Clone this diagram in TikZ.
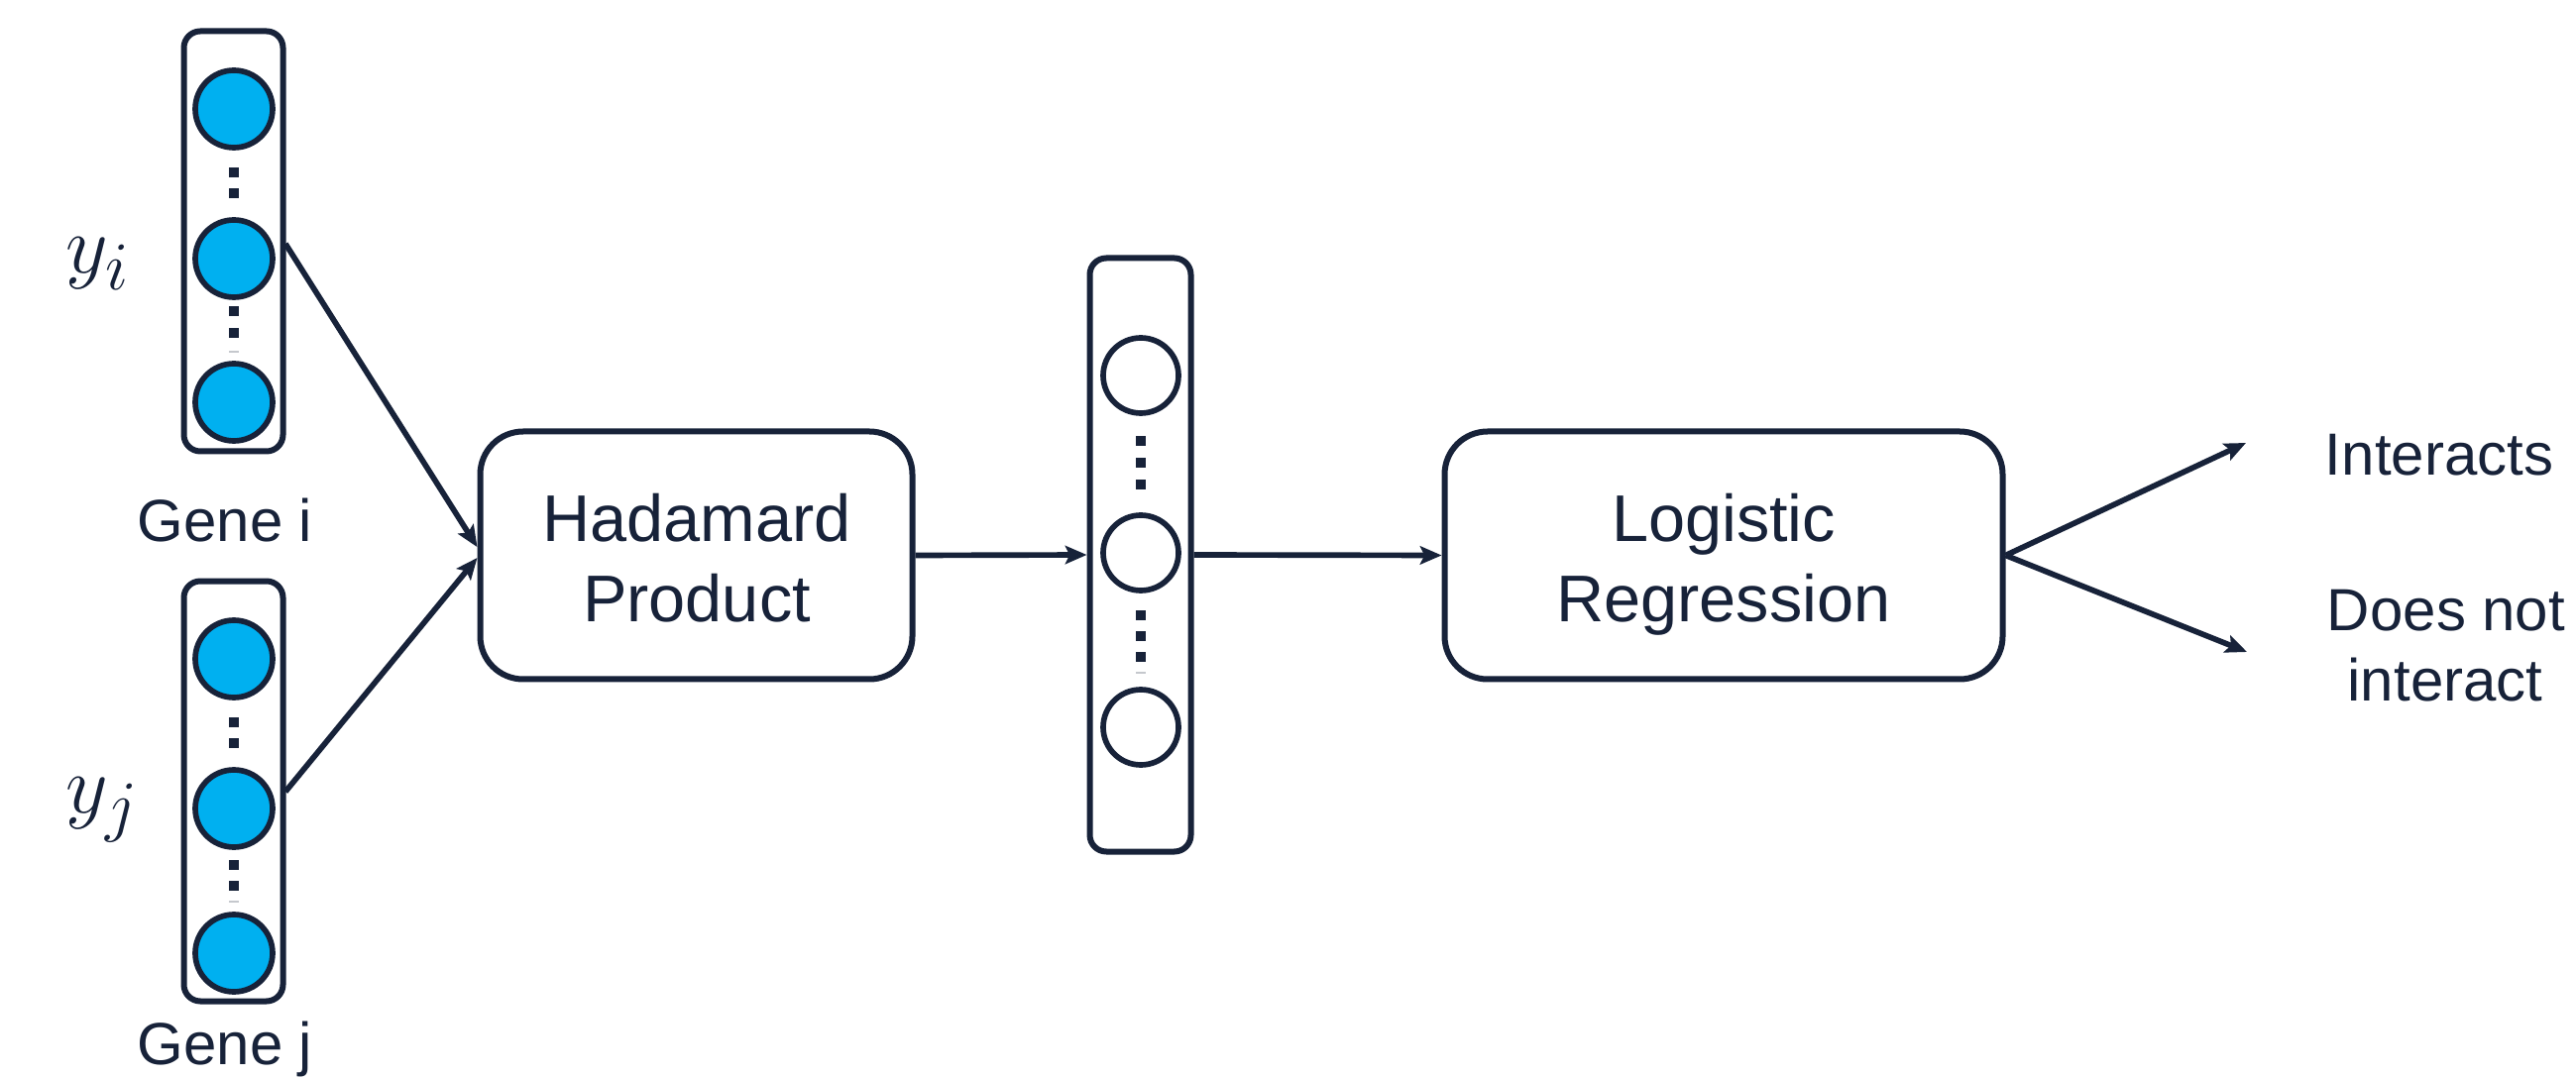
\documentclass[tikz,border=0pt]{standalone}
\usepackage{fontspec}
\setmainfont{Liberation Sans}
\usetikzlibrary{arrows.meta}
\definecolor{ink}{HTML}{172239}
\definecolor{cellblue}{HTML}{00B0F0}

\begin{document}
\begin{tikzpicture}[x=0.3pt,y=-0.3pt,
  vecbox/.style={draw=ink,line width=1.8pt,rounded corners=5pt,minimum width=30pt,inner sep=0pt},
  opbox/.style={draw=ink,line width=1.8pt,rounded corners=13pt,minimum height=75pt,inner sep=0pt},
  cell/.style={circle,draw=ink,line width=1.7pt,fill=cellblue,minimum size=23.4pt,inner sep=0pt},
  hcell/.style={circle,draw=ink,line width=1.7pt,fill=white,minimum size=22.8pt,inner sep=0pt},
  dotsq/.style={fill=ink,minimum size=3.1pt,inner sep=0pt},
  faint/.style={draw=ink!25,line width=0.4pt},
  lbl/.style={text=ink,font=\fontsize{18}{21.6}\selectfont,anchor=base,inner sep=0pt},
  biglbl/.style={text=ink,font=\fontsize{20}{24}\selectfont,anchor=base,inner sep=0pt},
  mathlbl/.style={text=ink,font=\fontsize{32}{36}\selectfont,anchor=base west,inner sep=0pt},
  conn/.style={draw=ink,line width=1.7pt,-{Stealth[length=6.5pt,width=5.5pt,inset=1.3pt]}},
]
\fill[white] (0,0) rectangle (2599,1088);
\useasboundingbox (0,0) rectangle (2599,1088);

% embedding of gene i
\node[vecbox,minimum height=127.2pt] (gi) at (235.5,243.5) {};
\node[cell] (gi-1) at (236,110) {};
\node[cell] (gi-2) at (236,261) {};
\node[cell] (gi-3) at (236,406) {};
\foreach \y [count=\k] in {174,195,314,336}
  \node[dotsq] (gi-d\k) at (236,\y) {};
\draw[faint] (231,355) -- (241,355);
\node[mathlbl] (yi) at (66,276) {$y_i$};
\node[lbl] (gi-name) at (227,547) {Gene i};

% embedding of gene j
\node[vecbox,minimum height=127.2pt] (gj) at (235.5,798.5) {};
\node[cell] (gj-1) at (236,665) {};
\node[cell] (gj-2) at (236,816) {};
\node[cell] (gj-3) at (236,962) {};
\foreach \y [count=\k] in {729,750,873,894}
  \node[dotsq] (gj-d\k) at (236,\y) {};
\draw[faint] (231,910) -- (241,910);
\node[mathlbl] (yj) at (66,820) {$y_j$};
\node[lbl] (gj-name) at (227,1074) {Gene j};

% element-wise product
\node[opbox,minimum width=130.8pt] (had) at (702.5,560.5) {};
\node[biglbl] (had-l1) at (703,547) {Hadamard};
\node[biglbl] (had-l2) at (703,628) {Product};

% combined vector
\node[vecbox,minimum width=30.6pt,minimum height=179.7pt] (mid) at (1150.5,560) {};
\node[hcell] (mid-1) at (1151,379) {};
\node[hcell] (mid-2) at (1151,558) {};
\node[hcell] (mid-3) at (1151,734) {};
\foreach \y [count=\k] in {445,467,489,621,642,663}
  \node[dotsq] (mid-d\k) at (1151,\y) {};
\draw[faint] (1146,679) -- (1156,679);

% classifier
\node[opbox,minimum width=168.9pt] (log) at (1739,560.5) {};
\node[biglbl] (log-l1) at (1739,547) {Logistic};
\node[biglbl] (log-l2) at (1739,628) {Regression};

% outcomes
\coordinate (out-yes) at (2266,447);
\coordinate (out-no) at (2267,658);
\node[lbl] (yes) at (2461,480) {Interacts};
\node[lbl] (no-1) at (2468,637) {Does not};
\node[lbl] (no-2) at (2467,708) {interact};

% connectors
\coordinate (gi-out) at (288,246);
\coordinate (gj-out) at (288,799);
\draw[conn] (gi-out) -- ([yshift=2.5pt]had.west);
\draw[conn] (gj-out) -- ([yshift=-0.75pt]had.west);
\draw[conn] (had.east) -- (mid.west);
\draw[conn] (mid.east) -- (log.west);
\draw[conn] (log.east) -- (out-yes);
\draw[conn] (log.east) -- (out-no);
\end{tikzpicture}
\end{document}
